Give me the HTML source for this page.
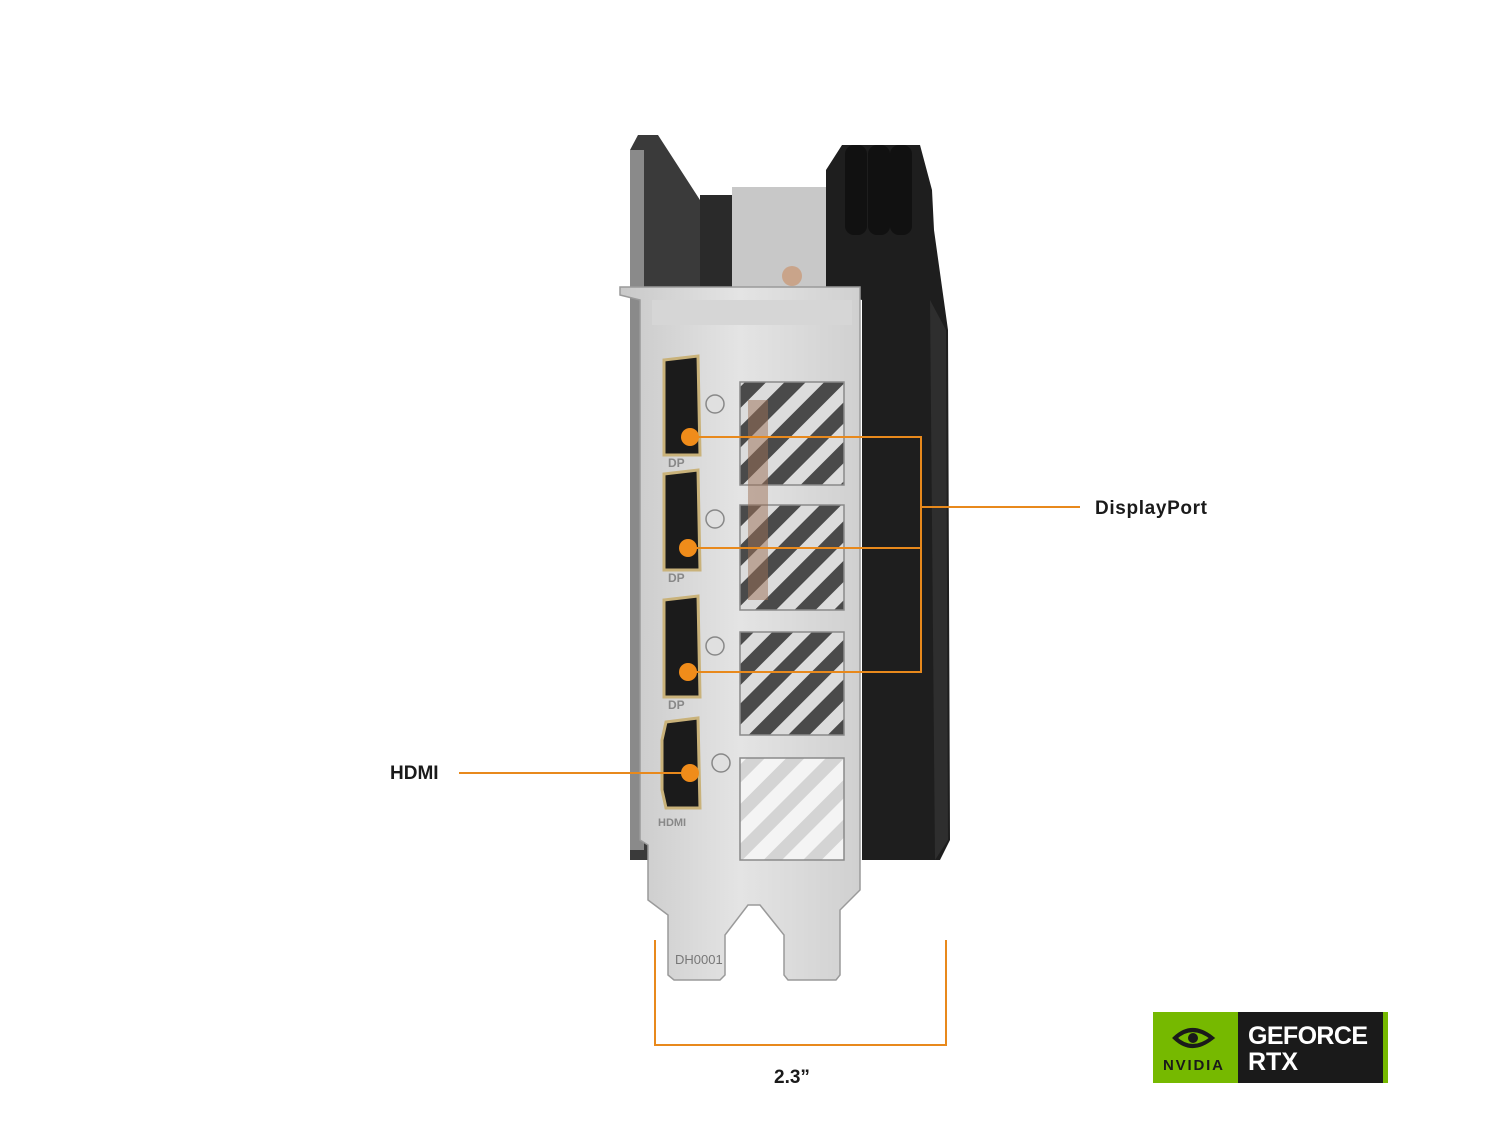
<!DOCTYPE html>
<html><head><meta charset="utf-8"><style>
html,body{margin:0;padding:0;background:#fff;}
svg{display:block}
text{font-family:"Liberation Sans",sans-serif;}
</style></head><body>
<svg width="1500" height="1125" viewBox="0 0 1500 1125" xmlns="http://www.w3.org/2000/svg">
<defs>
<linearGradient id="sil" x1="0" x2="1" y1="0" y2="0">
<stop offset="0" stop-color="#c9c9c9"/><stop offset="0.5" stop-color="#e4e4e4"/><stop offset="1" stop-color="#d0d0d0"/>
</linearGradient>
<pattern id="diag" width="28" height="28" patternUnits="userSpaceOnUse" patternTransform="rotate(45)">
<rect width="28" height="28" fill="#4a4a4a"/>
<rect x="0" y="0" width="13" height="28" fill="#dcdcdc"/>
</pattern>
<pattern id="diag2" width="28" height="28" patternUnits="userSpaceOnUse" patternTransform="rotate(45)">
<rect width="28" height="28" fill="#f4f4f4"/>
<rect x="0" y="0" width="13" height="28" fill="#d4d4d4"/>
</pattern>
</defs>
<path d="M638 135 L658 135 L700 200 L700 860 L630 860 L630 150 Z" fill="#3a3a3a"/>
<rect x="630" y="150" width="14" height="700" fill="#8a8a8a"/>
<rect x="700" y="195" width="35" height="100" fill="#2a2a2a"/>
<rect x="732" y="187" width="95" height="110" fill="#c8c8c8"/>
<path d="M842 145 L920 145 L932 190 L934 230 L948 330 L950 840 L940 860 L862 860 L862 300 L826 290 L826 170 Z" fill="#1e1e1e"/>
<rect x="845" y="145" width="22" height="90" rx="9" fill="#111"/>
<rect x="868" y="145" width="22" height="90" rx="9" fill="#111"/>
<rect x="890" y="145" width="22" height="90" rx="9" fill="#111"/>
<path d="M930 300 L946 330 L948 840 L935 860 Z" fill="#2e2e2e"/>
<circle cx="792" cy="276" r="10" fill="#c9a48a"/>
<path d="M620 287 L860 287 L860 890 L840 910 L840 975 L836 980 L788 980 L784 975 L784 935 L760 905 L748 905 L725 935 L725 975 L720 980 L674 980 L668 975 L668 915 L648 900 L648 845 L640 840 L640 300 L620 295 Z" fill="url(#sil)" stroke="#9a9a9a" stroke-width="1.5"/>
<rect x="652" y="300" width="200" height="25" fill="#d6d6d6"/>
<g stroke="#8a8a8a" stroke-width="1.5">
<rect x="740" y="382" width="104" height="103" fill="url(#diag)"/>
<rect x="740" y="505" width="104" height="105" fill="url(#diag)"/>
<rect x="740" y="632" width="104" height="103" fill="url(#diag)"/>
<rect x="740" y="758" width="104" height="102" fill="url(#diag2)"/>
</g>
<rect x="748" y="400" width="20" height="200" fill="#9c6f55" opacity="0.5"/>
<g fill="#1b1b1b" stroke="#c9b27a" stroke-width="3">
<path d="M664 360 L698 356 L700 455 L664 455 Z"/>
<path d="M664 474 L698 470 L700 570 L664 570 Z"/>
<path d="M664 600 L698 596 L700 697 L664 697 Z"/>
<path d="M666 722 L698 718 L700 808 L666 808 L662 790 L662 740 Z"/>
</g>
<g font-size="12" fill="#888" font-weight="bold">
<text x="668" y="467">DP</text><text x="668" y="582">DP</text><text x="668" y="709">DP</text><text x="658" y="826" font-size="11">HDMI</text>
<text x="675" y="964" font-size="13" font-weight="normal" fill="#777">DH0001</text>
</g>
<g fill="#e0e0e0" stroke="#888" stroke-width="1.5">
<circle cx="715" cy="404" r="9"/><circle cx="715" cy="519" r="9"/><circle cx="715" cy="646" r="9"/><circle cx="721" cy="763" r="9"/>
</g>
<g stroke="#e8891c" stroke-width="2" fill="none">
<path d="M690 437 H921 V672 H690"/><path d="M688 548 H921"/><path d="M921 507 H1080"/>
<path d="M459 773 H690"/>
<path d="M655 940 V1045 H946 V940"/>
</g>
<g fill="#f08c1a"><circle cx="690" cy="437" r="9"/><circle cx="688" cy="548" r="9"/><circle cx="688" cy="672" r="9"/><circle cx="690" cy="773" r="9"/></g>
<text x="1095" y="514" font-size="19" font-weight="bold" fill="#1a1a1a" textLength="112">DisplayPort</text>
<text x="390" y="779" font-size="19" font-weight="bold" fill="#1a1a1a">HDMI</text>
<text x="774" y="1083" font-size="19" font-weight="bold" fill="#1a1a1a">2.3”</text>
<rect x="1153" y="1012" width="235" height="71" fill="#76b900"/>
<rect x="1238" y="1012" width="145" height="71" fill="#1a1a1a"/>
<path d="M1175 1038 Q1192 1022 1212 1038 Q1192 1054 1175 1038 Z" fill="none" stroke="#1a1a1a" stroke-width="4"/>
<circle cx="1193" cy="1038" r="5" fill="#1a1a1a"/>
<text x="1163" y="1070" font-size="15" font-weight="bold" fill="#1a1a1a" textLength="60">NVIDIA</text>
<text x="1248" y="1044" font-size="25" font-weight="bold" fill="#fff" textLength="120">GEFORCE</text>
<text x="1248" y="1070" font-size="25" font-weight="bold" fill="#fff">RTX</text>
</svg>
</body></html>
